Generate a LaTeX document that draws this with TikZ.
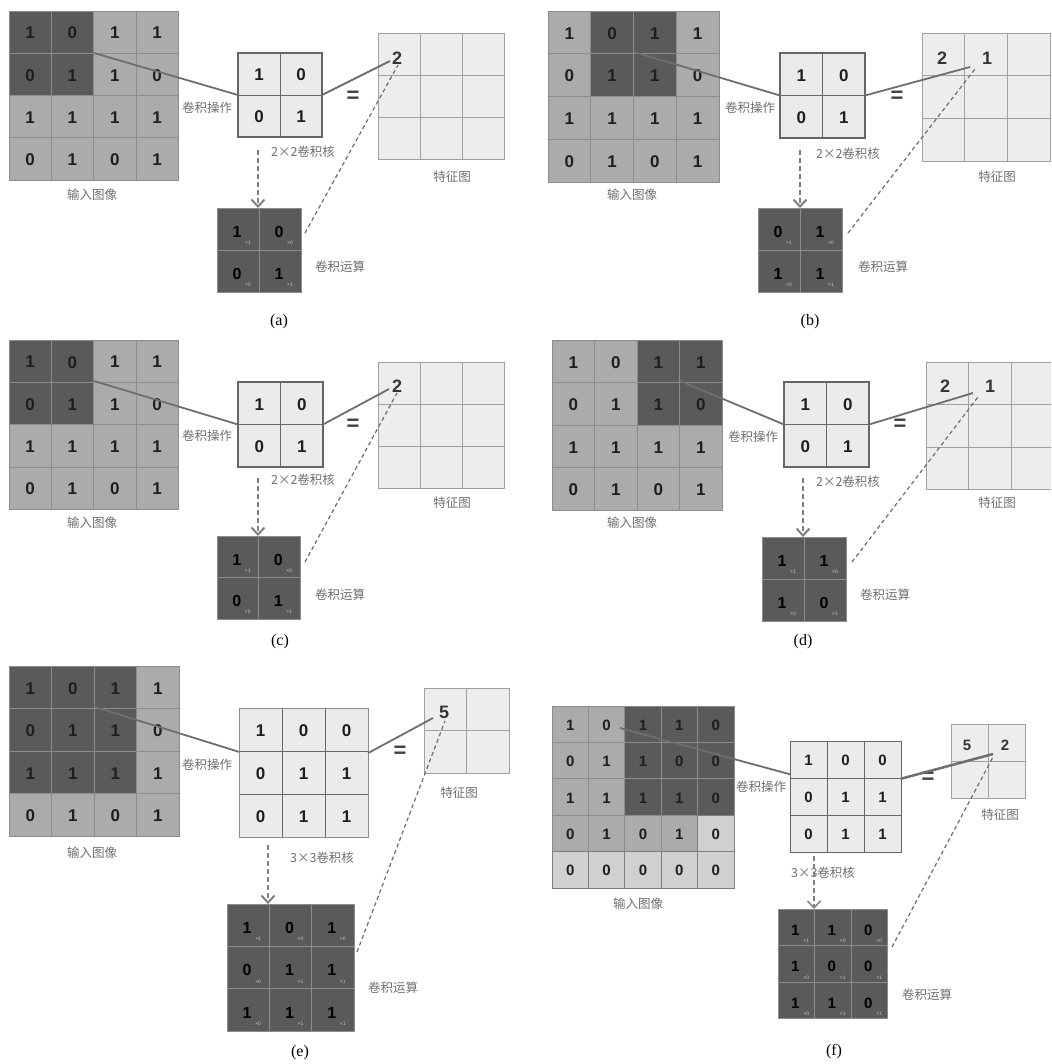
\documentclass[tikz,border=0pt]{standalone}
\usepackage{fontspec}
\setmainfont{Liberation Serif}
\newfontfamily\digfont{Liberation Sans}
\newfontfamily\cjk{Noto Sans CJK SC}
\usetikzlibrary{arrows.meta,calc}
\definecolor{cdark}{HTML}{5A5A5A}
\definecolor{cmed}{HTML}{ABABAB}
\definecolor{clight}{HTML}{D0D0D0}
\definecolor{ckern}{HTML}{EBEBEB}
\definecolor{cfeat}{HTML}{EDEDED}
\definecolor{cline}{HTML}{8C8C8C}
\definecolor{cfline}{HTML}{A0A0A0}
\definecolor{cframe}{HTML}{666666}
\definecolor{cdig}{HTML}{1E1E1E}
\definecolor{csubc}{HTML}{C4C4C4}
\definecolor{clab}{HTML}{707070}
\definecolor{cconn}{HTML}{6E6E6E}
\definecolor{carr}{HTML}{808080}
\tikzset{
  cD/.style={fill=cdark, draw=cline, line width=0.8pt},
  cM/.style={fill=cmed, draw=cline, line width=0.8pt},
  cL/.style={fill=clight, draw=cline!90!black, line width=0.8pt},
  cK/.style={fill=ckern, draw=cframe, line width=0.9pt},
  cF/.style={fill=cfeat, draw=cfline, line width=0.8pt},
  cC/.style={fill=cdark, draw=cline, line width=0.8pt},
  gridnode/.style={inner sep=0pt, outer sep=0pt, anchor=north west},
  kframe/.style={draw=cframe, line width=1.3pt, inner sep=0pt, outer sep=0pt, anchor=north west},
  lab/.style={font=\cjk\fontsize{12.5}{14}\selectfont, text=clab, inner sep=0pt},
  conn/.style={draw=cconn, line width=1.8pt},
  darr/.style={draw=carr, line width=2pt, dash pattern=on 5pt off 3pt, -{Straight Barb[length=7pt,width=13pt]}},
  dline/.style={draw=cconn, line width=1.2pt, dash pattern=on 4pt off 3pt},
  eqs/.style={font=\digfont\bfseries\fontsize{22}{22}\selectfont, text=cdig!85, inner sep=0pt},
  capt/.style={font=\fontsize{16}{16}\selectfont, text=black, inner sep=0pt},
  fval/.style={font=\digfont\bfseries\fontsize{18}{18}\selectfont, text=cdig!90, inner sep=0pt},
  csub/.style={font=\digfont\fontsize{5}{5}\selectfont, text=csubc, inner sep=0pt},
}
% #1 name, #2 x0, #3 y0, #4 cell size, #5 columns, #6 entries value/style, #7 font size
\newcommand\mygrid[7]{%
  \foreach [count=\i from 0] \v/\s in {#6}{%
    \pgfmathtruncatemacro\rr{floor(\i/#5)}%
    \pgfmathtruncatemacro\cc{\i-\rr*#5}%
    \draw[\s] ({#2+\cc*#4},{#3+\rr*#4}) rectangle ++(#4,#4);
    \node[inner sep=0pt, text=cdig, font={\digfont\bfseries\fontsize{#7}{#7}\selectfont}] at ({#2+(\cc+0.5)*#4},{#3+(\rr+0.5)*#4+1}) {\v};
  }%
  \node[gridnode, minimum width={#5*#4}, minimum height={#5*#4}] (#1) at (#2,#3) {};
}
% conv result grid: entries value/subscript
\newcommand\convgrid[7]{%
  \foreach [count=\i from 0] \v/\s in {#6}{%
    \pgfmathtruncatemacro\rr{floor(\i/#5)}%
    \pgfmathtruncatemacro\cc{\i-\rr*#5}%
    \draw[cC] ({#2+\cc*#4},{#3+\rr*#4}) rectangle ++(#4,#4);
    \node[inner sep=0pt, text=black, font={\digfont\bfseries\fontsize{#7}{#7}\selectfont}] at ({#2+(\cc+0.5)*#4-1},{#3+(\rr+0.5)*#4+3}) {\v};
    \node[csub] at ({#2+(\cc+0.5)*#4+10},{#3+(\rr+0.5)*#4+14}) {\s};
  }%
  \node[gridnode, minimum width={#5*#4}, minimum height={#5*#4}] (#1) at (#2,#3) {};
}
\begin{document}
\begin{tikzpicture}[x=1pt,y=-1pt]
\clip (0,0) rectangle (1051,1064);
\fill[white] (0,0) rectangle (1051,1064);

% ================= (a) =================
\mygrid{a-in}{9}{11}{42.3}{4}{1/cD,0/cD,1/cM,1/cM,0/cD,1/cD,1/cM,0/cM,1/cM,1/cM,1/cM,1/cM,0/cM,1/cM,0/cM,1/cM}{17}
\mygrid{a-kg}{238}{53}{42}{2}{1/cK,0/cK,0/cK,1/cK}{17}
\node[kframe, minimum width=84, minimum height=84] (a-k) at (238,53) {};
\mygrid{a-f}{378}{33}{42}{3}{/cF,/cF,/cF,/cF,/cF,/cF,/cF,/cF,/cF}{17}
\convgrid{a-c}{217}{208}{42}{2}{1/×1,0/×0,0/×0,1/×1}{16}
\node[fval] (a-v1) at (397,58) {2};
\node[lab] (a-l1) at (92,195) {输入图像};
\node[lab] (a-l2) at (207,108) {卷积操作};
\node[lab] (a-l3) at (303,152) {2×2卷积核};
\node[lab] (a-l4) at (452,177) {特征图};
\node[lab] (a-l5) at (340,267) {卷积运算};
\node[eqs] (a-eq) at (353,97) {=};
\node[capt] (a-cap) at (279,322) {(a)};
\coordinate (a-s) at (94,53);
\coordinate (a-t) at (390,61);
\coordinate (a-u) at (398,65);
\coordinate (a-d) at (305,233);
\coordinate (a-ar) at (258,150);
\draw[conn] (a-s) -- (a-k.west);
\draw[conn] (a-k.east) -- (a-t);
\draw[darr] (a-ar) -- (a-ar |- a-c.north);
\draw[dline] (a-d) -- (a-u);

% ================= (b) =================
\mygrid{b-in}{548}{11}{42.75}{4}{1/cM,0/cD,1/cD,1/cM,0/cM,1/cD,1/cD,0/cM,1/cM,1/cM,1/cM,1/cM,0/cM,1/cM,0/cM,1/cM}{17}
\mygrid{b-kg}{780}{53}{42.5}{2}{1/cK,0/cK,0/cK,1/cK}{17}
\node[kframe, minimum width=85, minimum height=85] (b-k) at (780,53) {};
\mygrid{b-f}{922}{33}{42.7}{3}{/cF,/cF,/cF,/cF,/cF,/cF,/cF,/cF,/cF}{17}
\convgrid{b-c}{758}{208}{42}{2}{0/×1,1/×0,1/×0,1/×1}{16}
\node[fval] (b-v1) at (942,58) {2};
\node[fval] (b-v2) at (987,58) {1};
\node[lab] (b-l1) at (632,195) {输入图像};
\node[lab] (b-l2) at (750,108) {卷积操作};
\node[lab] (b-l3) at (848,154) {2×2卷积核};
\node[lab] (b-l4) at (997,177) {特征图};
\node[lab] (b-l5) at (883,267) {卷积运算};
\node[eqs] (b-eq) at (897,97) {=};
\node[capt] (b-cap) at (810,322) {(b)};
\coordinate (b-s) at (634,52);
\coordinate (b-t) at (970,67);
\coordinate (b-u) at (975,69);
\coordinate (b-d) at (848,233);
\coordinate (b-ar) at (800,150);
\draw[conn] (b-s) -- (b-k.west);
\draw[conn] (b-k.east) -- (b-t);
\draw[darr] (b-ar) -- (b-ar |- b-c.north);
\draw[dline] (b-d) -- (b-u);

% ================= (c) =================
\mygrid{c-in}{9}{340}{42.3}{4}{1/cD,0/cD,1/cM,1/cM,0/cD,1/cD,1/cM,0/cM,1/cM,1/cM,1/cM,1/cM,0/cM,1/cM,0/cM,1/cM}{17}
\mygrid{c-kg}{238}{382}{42.5}{2}{1/cK,0/cK,0/cK,1/cK}{17}
\node[kframe, minimum width=85, minimum height=85] (c-k) at (238,382) {};
\mygrid{c-f}{378}{362}{42}{3}{/cF,/cF,/cF,/cF,/cF,/cF,/cF,/cF,/cF}{17}
\convgrid{c-c}{217}{536}{41.5}{2}{1/×1,0/×0,0/×0,1/×1}{16}
\node[fval] (c-v1) at (397,386) {2};
\node[lab] (c-l1) at (92,523) {输入图像};
\node[lab] (c-l2) at (207,436) {卷积操作};
\node[lab] (c-l3) at (303,480) {2×2卷积核};
\node[lab] (c-l4) at (452,503) {特征图};
\node[lab] (c-l5) at (340,595) {卷积运算};
\node[eqs] (c-eq) at (353,425) {=};
\node[capt] (c-cap) at (280,642) {(c)};
\coordinate (c-s) at (94,381);
\coordinate (c-t) at (389,389);
\coordinate (c-u) at (397,393);
\coordinate (c-d) at (305,562);
\coordinate (c-ar) at (258,478);
\draw[conn] (c-s) -- (c-k.west);
\draw[conn] (c-k.east) -- (c-t);
\draw[darr] (c-ar) -- (c-ar |- c-c.north);
\draw[dline] (c-d) -- (c-u);

% ================= (d) =================
\mygrid{d-in}{552}{340}{42.5}{4}{1/cM,0/cM,1/cD,1/cD,0/cM,1/cM,1/cD,0/cD,1/cM,1/cM,1/cM,1/cM,0/cM,1/cM,0/cM,1/cM}{17}
\mygrid{d-kg}{784}{382}{42.5}{2}{1/cK,0/cK,0/cK,1/cK}{17}
\node[kframe, minimum width=85, minimum height=85] (d-k) at (784,382) {};
\mygrid{d-f}{926}{362}{42.5}{3}{/cF,/cF,/cF,/cF,/cF,/cF,/cF,/cF,/cF}{17}
\convgrid{d-c}{762}{537}{42}{2}{1/×1,1/×0,1/×0,0/×1}{16}
\node[fval] (d-v1) at (945,386) {2};
\node[fval] (d-v2) at (990,386) {1};
\node[lab] (d-l1) at (632,523) {输入图像};
\node[lab] (d-l2) at (753,437) {卷积操作};
\node[lab] (d-l3) at (848,482) {2×2卷积核};
\node[lab] (d-l4) at (997,503) {特征图};
\node[lab] (d-l5) at (885,595) {卷积运算};
\node[eqs] (d-eq) at (900,425) {=};
\node[capt] (d-cap) at (803,642) {(d)};
\coordinate (d-s) at (680,381);
\coordinate (d-t) at (973,393);
\coordinate (d-u) at (978,397);
\coordinate (d-d) at (852,562);
\coordinate (d-ar) at (803,478);
\draw[conn] (d-s) -- (d-k.west);
\draw[conn] (d-k.east) -- (d-t);
\draw[darr] (d-ar) -- (d-ar |- d-c.north);
\draw[dline] (d-d) -- (d-u);

% ================= (e) =================
\mygrid{e-in}{9}{666}{42.5}{4}{1/cD,0/cD,1/cD,1/cM,0/cD,1/cD,1/cD,0/cM,1/cD,1/cD,1/cD,1/cM,0/cM,1/cM,0/cM,1/cM}{17}
\mygrid{e-kg}{239}{708}{43}{3}{1/cK,0/cK,0/cK,0/cK,1/cK,1/cK,0/cK,1/cK,1/cK}{17}
\node[kframe, line width=1pt, draw=cline, minimum width=129, minimum height=129] (e-k) at (239,708) {};
\mygrid{e-f}{424}{688}{42.5}{2}{/cF,/cF,/cF,/cF}{17}
\convgrid{e-c}{227}{904}{42.3}{3}{1/×1,0/×0,1/×0,0/×0,1/×1,1/×1,1/×0,1/×1,1/×1}{16}
\node[fval] (e-v1) at (444,712) {5};
\node[lab] (e-l1) at (92,853) {输入图像};
\node[lab] (e-l2) at (207,765) {卷积操作};
\node[lab] (e-l3) at (322,858) {3×3卷积核};
\node[lab] (e-l4) at (459,793) {特征图};
\node[lab] (e-l5) at (393,988) {卷积运算};
\node[eqs] (e-eq) at (400,752) {=};
\node[capt] (e-cap) at (300,1053) {(e)};
\coordinate (e-s) at (95,707);
\coordinate (e-t) at (433,718);
\coordinate (e-u) at (445,721);
\coordinate (e-d) at (357,952);
\coordinate (e-ar) at (268,845);
\draw[conn] (e-s) -- ($(e-k.north west)!0.34!(e-k.south west)$);
\draw[conn] ($(e-k.north east)!0.35!(e-k.south east)$) -- (e-t);
\draw[darr] (e-ar) -- (e-ar |- e-c.north);
\draw[dline] (e-d) -- (e-u);

% ================= (f) =================
\mygrid{f-in}{552}{706}{36.4}{5}{1/cM,0/cM,1/cD,1/cD,0/cD,0/cM,1/cM,1/cD,0/cD,0/cD,1/cM,1/cM,1/cD,1/cD,0/cD,0/cM,1/cM,0/cM,1/cM,0/cL,0/cL,0/cL,0/cL,0/cL,0/cL}{15}
\mygrid{f-kg}{790}{741}{37}{3}{1/cK,0/cK,0/cK,0/cK,1/cK,1/cK,0/cK,1/cK,1/cK}{15}
\node[kframe, line width=1pt, minimum width=111, minimum height=111] (f-k) at (790,741) {};
\mygrid{f-f}{951}{724}{37}{2}{/cF,/cF,/cF,/cF}{15}
\convgrid{f-c}{778}{909}{36.5}{3}{1/×1,1/×0,0/×0,1/×0,0/×1,0/×1,1/×0,1/×1,0/×1}{15}
\node[fval, font=\digfont\bfseries\fontsize{15}{15}\selectfont] (f-v1) at (967,745) {5};
\node[fval, font=\digfont\bfseries\fontsize{15}{15}\selectfont] (f-v2) at (1005,745) {2};
\node[lab] (f-l1) at (638,904) {输入图像};
\node[lab] (f-l2) at (761,787) {卷积操作};
\node[lab] (f-l3) at (823,873) {3×3卷积核};
\node[lab] (f-l4) at (1000,815) {特征图};
\node[lab] (f-l5) at (927,995) {卷积运算};
\node[eqs] (f-eq) at (928,778) {=};
\node[capt] (f-cap) at (834,1052) {(f)};
\coordinate (f-s) at (620,728);
\coordinate (f-t) at (993,754);
\coordinate (f-u) at (993,757);
\coordinate (f-d) at (892,947);
\coordinate (f-ar) at (814,856);
\draw[conn] (f-s) -- ($(f-k.north west)!0.3!(f-k.south west)$);
\draw[conn, line width=2.5pt] ($(f-k.north east)!0.34!(f-k.south east)$) -- (f-t);
\draw[darr, line width=1.5pt] (f-ar) -- (f-ar |- f-c.north);
\draw[dline] (f-d) -- (f-u);
\end{tikzpicture}
\end{document}
